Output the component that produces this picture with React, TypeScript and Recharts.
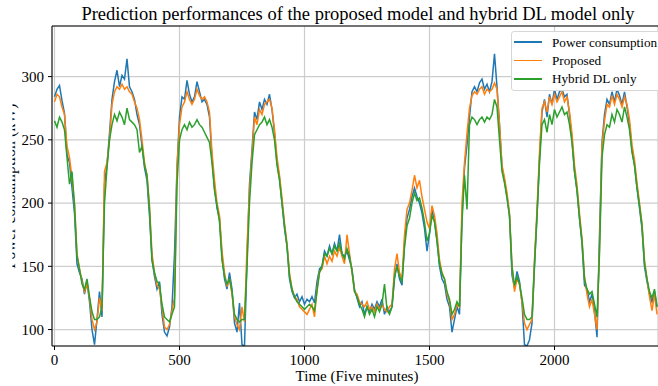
import React from "react";
import {
  LineChart,
  Line,
  XAxis,
  YAxis,
  CartesianGrid,
  Legend,
  ReferenceLine,
} from "recharts";

// Sample step of the series (five-minute intervals)
const STEP = 10;

const powerConsumption: number[] = [
  284, 290, 293, 281, 271, 238, 232, 212, 192, 152,
  145, 140, 128, 138, 122, 100, 88, 108, 130, 110,
  215, 230, 255, 282, 296, 305, 292, 301, 298, 314,
  292, 288, 282, 270, 262, 245, 228, 218, 190, 155,
  142, 132, 138, 112, 98, 95, 102, 118, 160, 228,
  268, 284, 282, 297, 286, 280, 284, 296, 288, 280,
  282, 278, 268, 235, 212, 196, 188, 158, 140, 132,
  145, 132, 105, 98, 121, 88, 87, 155, 215, 242,
  272, 266, 280, 274, 282, 278, 286, 274, 255, 232,
  220, 200, 180, 166, 140, 130, 125, 128, 122, 126,
  120, 124, 122, 126, 121, 138, 148, 150, 162, 158,
  166, 160, 168, 162, 175, 160, 158, 162, 155, 148,
  132, 125, 118, 122, 112, 118, 114, 120, 116, 122,
  118, 124, 112, 118, 114, 118, 140, 152, 140, 135,
  168, 188, 195, 205, 212, 205, 200, 192, 180, 162,
  176, 195, 186, 170, 150, 140, 136, 124, 118, 98,
  108, 118, 112, 190, 228, 246, 268, 288, 292, 288,
  295, 298, 290, 294, 288, 296, 318, 292, 262, 228,
  218, 205, 190, 143, 133, 146, 138, 121, 88, 87,
  92, 105, 150, 190, 235, 272, 282, 268, 286, 278,
  290, 282, 288, 290, 284, 286, 270, 250, 225, 210,
  188, 168, 135, 132, 122, 128, 115, 94, 175, 248,
  270, 282, 278, 288, 280, 290, 285, 278, 288, 276,
  262, 242, 230, 212, 196, 180, 150, 138, 128, 122, 130, 118,
];

const proposed: number[] = [
  280, 286, 284, 276, 270, 245, 236, 220, 200, 160,
  148, 138, 130, 136, 125, 108, 100, 106, 125, 115,
  225, 232, 250, 278, 288, 292, 290, 294, 290, 292,
  288, 286, 280, 275, 266, 250, 232, 222, 198, 160,
  145, 135, 132, 118, 102, 100, 104, 115, 125, 228,
  262, 276, 280, 288, 282, 278, 282, 290, 285, 282,
  284, 280, 272, 240, 218, 200, 190, 162, 145, 134,
  140, 128, 110, 104, 100, 118, 106, 165, 210, 238,
  268, 262, 274, 270, 278, 280, 282, 275, 258, 236,
  222, 204, 184, 168, 145, 132, 126, 124, 118, 116,
  114, 112, 116, 120, 110, 132, 146, 148, 158, 152,
  158, 154, 162, 158, 165, 158, 152, 175, 160, 146,
  130, 128, 122, 120, 118, 122, 116, 118, 114, 120,
  116, 120, 116, 114, 118, 120, 148, 160, 145, 140,
  175, 195, 200, 210, 222, 212, 218, 205, 195, 185,
  180, 198, 190, 176, 155, 145, 140, 128, 122, 108,
  112, 120, 118, 200, 232, 255, 275, 285, 288, 286,
  290, 292, 286, 290, 288, 290, 295, 290, 262, 230,
  220, 208, 192, 150, 130, 140, 136, 122, 105, 100,
  104, 108, 155, 195, 240, 275, 280, 272, 284, 278,
  286, 280, 284, 288, 280, 284, 272, 255, 230, 214,
  192, 172, 142, 128, 118, 124, 112, 100, 165, 245,
  265, 278, 276, 285, 278, 286, 282, 276, 284, 278,
  266, 246, 234, 216, 200, 184, 155, 140, 126, 115, 128, 112,
];

const hybridDL: number[] = [
  265, 260, 268, 264, 258, 236, 215, 225, 198, 158,
  148, 136, 132, 140, 126, 114, 108, 108, 110, 118,
  200, 228, 250, 262, 270, 265, 272, 268, 262, 275,
  266, 264, 262, 258, 240, 245, 230, 222, 195, 155,
  145, 138, 136, 120, 110, 108, 106, 112, 118, 215,
  250, 258, 262, 258, 264, 260, 262, 266, 262, 260,
  256, 252, 248, 232, 210, 198, 185, 155, 142, 136,
  140, 130, 112, 108, 106, 108, 108, 150, 200, 232,
  254, 258, 262, 264, 268, 262, 266, 260, 250, 230,
  218, 200, 182, 166, 142, 132, 126, 122, 120, 118,
  116, 118, 120, 118, 115, 130, 145, 150, 160, 158,
  164, 160, 166, 162, 168, 160, 156, 164, 158, 146,
  130, 126, 120, 116, 110, 118, 112, 116, 110, 118,
  114, 120, 136, 116, 112, 118, 142, 150, 142, 138,
  165, 182, 188, 200, 208, 202, 204, 196, 185, 170,
  176, 190, 185, 170, 152, 144, 140, 130, 124, 112,
  116, 122, 118, 185, 222, 195, 262, 268, 266, 262,
  266, 268, 264, 268, 266, 270, 282, 276, 250, 225,
  216, 204, 190, 150, 135, 142, 136, 125, 112, 108,
  108, 110, 152, 190, 232, 262, 266, 256, 270, 262,
  274, 268, 272, 276, 270, 272, 262, 248, 225, 210,
  188, 170, 140, 132, 128, 130, 120, 110, 160, 236,
  254, 262, 260, 270, 264, 274, 270, 264, 276, 268,
  258, 240, 230, 212, 198, 182, 152, 140, 130, 125, 132, 118,
];

const xTicks = [0, 500, 1000, 1500, 2000];
const yTicks = [100, 150, 200, 250, 300];

const seriesNames = ["Power consumption", "Proposed", "Hybrid DL only"];
const seriesKeys = ["power", "proposed", "hybrid"];
const seriesColors = ["#1f77b4", "#ff7f0e", "#2ca02c"];

const titleText =
  "Prediction performances of the proposed model and hybrid DL model only";
const xLabel = "Time (Five minutes)";
const yLabel = "Power consumption (kW)";

const data = powerConsumption.map((v, i) => ({
  t: i * STEP,
  power: v,
  proposed: proposed[i],
  hybrid: hybridDL[i],
}));

const FONT = "Liberation Serif";

const XTick = (props: any) => {
  const { x, y, payload } = props;
  return (
    <text
      x={x}
      y={y}
      dy="0.71em"
      textAnchor="middle"
      fill="#000"
      fontFamily={FONT}
      fontSize={15}
    >
      {payload.value}
    </text>
  );
};

const YTick = (props: any) => {
  const { x, y, payload } = props;
  return (
    <text
      x={x}
      y={y}
      dy="0.36em"
      textAnchor="end"
      fill="#000"
      fontFamily={FONT}
      fontSize={15}
    >
      {payload.value}
    </text>
  );
};

const LegendBox = () => (
  <div
    style={{
      background: "#ffffff",
      border: "1px solid #d6d6d6",
      borderRadius: 3,
      width: 160,
      height: 57,
      boxSizing: "content-box",
      paddingTop: 1,
      fontFamily: FONT,
      fontSize: 13.2,
      color: "#000",
    }}
  >
    {seriesNames.map((name, i) => (
      <div
        key={name}
        style={{ display: "flex", alignItems: "center", height: 18.4 }}
      >
        <div
          style={{
            width: 28,
            height: 1.6,
            marginLeft: 2,
            background: seriesColors[i],
          }}
        />
        <span style={{ marginLeft: 10, whiteSpace: "nowrap", lineHeight: 1 }}>
          {name}
        </span>
      </div>
    ))}
  </div>
);

const YLabel = () => (
  <g>
    <defs>
      <clipPath id="ylabel-clip" clipPathUnits="userSpaceOnUse">
        <rect x={12.5} y={0} width={30} height={386} />
      </clipPath>
    </defs>
    <g clipPath="url(#ylabel-clip)">
      <text
        x={14.5}
        y={186}
        transform="rotate(-90 14.5 186)"
        textAnchor="middle"
        fontFamily={FONT}
        fontSize={16}
        fill="#000"
      >
        {yLabel}
      </text>
    </g>
  </g>
);

export default function App() {
  return (
    <div
      style={{
        position: "absolute",
        left: 0,
        top: 0,
        width: 658,
        height: 386,
        overflow: "hidden",
        background: "#fff",
      }}
    >
      <div
        style={{
          position: "absolute",
          left: 0,
          width: 716,
          top: 5,
          textAlign: "center",
          fontFamily: FONT,
          fontSize: 18.5,
          lineHeight: "18px",
          color: "#000",
          whiteSpace: "nowrap",
          zIndex: 2,
        }}
      >
        {titleText}
      </div>
      <div
        style={{
          position: "absolute",
          left: 0,
          width: 714,
          top: 369,
          textAlign: "center",
          fontFamily: FONT,
          fontSize: 15,
          lineHeight: "15px",
          color: "#000",
          whiteSpace: "nowrap",
          zIndex: 2,
        }}
      >
        {xLabel}
      </div>
      <LineChart
        width={658}
        height={386}
        data={data}
        margin={{ top: 26, right: 0, bottom: 0, left: 0 }}
      >
        <CartesianGrid stroke="#cdcdcd" strokeWidth={1.2} />
        <XAxis
          dataKey="t"
          type="number"
          domain={[-10, 2414]}
          ticks={xTicks}
          interval={0}
          allowDataOverflow
          height={40}
          axisLine={{ stroke: "#000", strokeWidth: 1 }}
          tickLine={{ stroke: "#000" }}
          tickSize={4}
          tickMargin={4}
          tick={<XTick />}
        />
        <YAxis
          type="number"
          domain={[87, 340]}
          ticks={yTicks}
          interval={0}
          allowDataOverflow
          width={52}
          axisLine={{ stroke: "#000", strokeWidth: 1 }}
          tickLine={{ stroke: "#000" }}
          tickSize={4}
          tickMargin={4}
          tick={<YTick />}
          label={{ content: () => <YLabel /> }}
        />
        <ReferenceLine y={340} stroke="#000" strokeWidth={1} />
        {seriesKeys.map((k, i) => (
          <Line
            key={k}
            type="linear"
            dataKey={k}
            name={seriesNames[i]}
            stroke={seriesColors[i]}
            strokeWidth={1.5}
            dot={false}
            activeDot={false}
            isAnimationActive={false}
          />
        ))}
        <Legend
          layout="horizontal"
          verticalAlign="middle"
          align="center"
          content={() => <LegendBox />}
          wrapperStyle={{ position: "absolute", top: 31, left: 511, width: 170 }}
        />
      </LineChart>
    </div>
  );
}
